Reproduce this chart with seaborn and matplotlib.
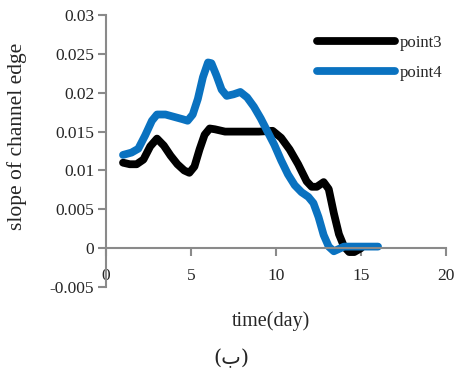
import matplotlib
matplotlib.use("Agg")
import matplotlib.pyplot as plt
import seaborn as sns
import pandas as pd

# values (smoothed excel-style curves)
day3 = [1, 1.4, 1.8, 2.2, 2.6, 3.0, 3.4, 3.8, 4.2, 4.6, 4.9, 5.2, 5.5, 5.8, 6.1, 6.4, 7.0, 8.0, 9.0, 9.8, 10.3, 10.8, 11.3, 11.8, 12.1, 12.4, 12.8, 13.1, 13.4, 13.7, 14.0, 14.3, 14.6, 15.0]
point3 = [0.011, 0.0108, 0.0108, 0.0114, 0.0131, 0.0141, 0.0132, 0.0119, 0.0108, 0.0100, 0.0097, 0.0105, 0.0127, 0.0146, 0.0154, 0.0153, 0.015, 0.015, 0.015, 0.0151, 0.0142, 0.0127, 0.0108, 0.0086, 0.0079, 0.0079, 0.0085, 0.0076, 0.0045, 0.0018, 0.0002, -0.0005, -0.0005, 0.0]

day4 = [1, 1.5, 1.9, 2.3, 2.7, 3.0, 3.5, 4.0, 4.5, 4.8, 5.1, 5.4, 5.7, 6.0, 6.2, 6.5, 6.8, 7.1, 7.5, 7.9, 8.3, 8.7, 9.1, 9.5, 9.9, 10.3, 10.7, 11.1, 11.5, 11.9, 12.2, 12.5, 12.8, 13.1, 13.4, 13.7, 14.0, 15.0, 16.0]
point4 = [0.012, 0.0123, 0.0128, 0.0145, 0.0164, 0.0172, 0.0172, 0.0169, 0.0166, 0.0164, 0.0172, 0.0192, 0.0220, 0.0239, 0.0238, 0.0222, 0.0204, 0.0196, 0.0198, 0.0201, 0.0194, 0.0182, 0.0167, 0.0150, 0.0133, 0.0113, 0.0095, 0.0081, 0.0072, 0.0066, 0.0058, 0.0040, 0.0017, 0.0002, -0.0004, -0.0001, 0.0002, 0.0002, 0.0002]

x_ticks = [0, 5, 10, 15, 20]
y_ticks = [-0.005, 0, 0.005, 0.01, 0.015, 0.02, 0.025, 0.03]
y_tick_labels = ["-0.005", "0", "0.005", "0.01", "0.015", "0.02", "0.025", "0.03"]

df = pd.concat([
    pd.DataFrame({"day": day3, "slope": point3, "series": "point3"}),
    pd.DataFrame({"day": day4, "slope": point4, "series": "point4"}),
])

sns.set_style("white")
plt.rcParams["font.family"] = ["Liberation Serif", "DejaVu Sans"]

fig = plt.figure(figsize=(4.54, 3.70), dpi=100)
ax = fig.add_axes([0.2335, 0.2243, 0.749, 0.735])

sns.lineplot(data=df, x="day", y="slope", hue="series", sort=False,
             palette={"point3": "#000000", "point4": "#0a72c0"},
             linewidth=5.6, ax=ax, estimator=None)
for ln in ax.get_lines():
    ln.set_solid_joinstyle("round")
    ln.set_solid_capstyle("round")

ax.set_xlim(0, 20)
ax.set_ylim(-0.005, 0.03)
ax.set_xticks(x_ticks)
ax.set_yticks(y_ticks)
ax.set_yticklabels(y_tick_labels)

for s in ["top", "right"]:
    ax.spines[s].set_visible(False)
ax.spines["bottom"].set_position(("data", 0))
for s in ["left", "bottom"]:
    ax.spines[s].set_color("#8a8a8a")
    ax.spines[s].set_linewidth(1.5)

ax.tick_params(axis="both", direction="out", length=5.5, width=1.5, color="#8a8a8a",
               labelsize=12.5, left=True, bottom=True)
ax.tick_params(axis="x", pad=9)
ax.tick_params(axis="y", pad=3)

ax.set_xlabel("")
ax.set_ylabel("slope of channel edge", fontsize=15.5)
ax.yaxis.set_label_coords(-0.232, 0.555)

fig.text(0.597, 0.132, "time(day)", fontsize=14.5, ha="center", va="center")
fig.text(0.51, 0.03, "(ب)", fontsize=15, ha="center", va="center",
         family=["DejaVu Serif", "DejaVu Sans"])

leg = ax.legend(loc="upper left", bbox_to_anchor=(0.62, 0.926), frameon=False,
                fontsize=12, handlelength=4.7, handletextpad=0.3, labelspacing=0.8,
                borderpad=0, borderaxespad=0)
for h in leg.get_lines():
    h.set_linewidth(5.6)

fig.savefig("out.png", dpi=100)
